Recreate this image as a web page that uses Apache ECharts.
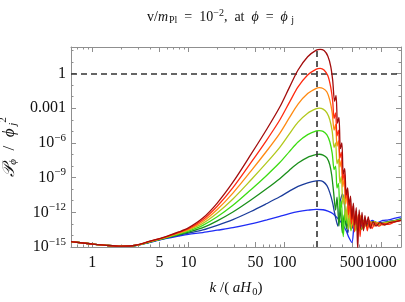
<!DOCTYPE html>
<html><head><meta charset="utf-8">
<script src="https://cdn.jsdelivr.net/npm/echarts@6/dist/echarts.min.js"></script>
<style>html,body{margin:0;padding:0;background:#fff}#c{width:405px;height:302px}</style>
</head><body><div id="c"></div>
<script>
// All values in decades: log10(k/(aH0)) and log10(P_phi/phi_j^2)
const logK_rise = [-0.22, 0, 0.15, 0.3, 0.45, 0.6, 0.75, 0.9, 1.0, 1.15, 1.3, 1.463, 1.65, 1.816, 1.95, 2.05, 2.14, 2.24, 2.33];

const rise_blue      = [-14.54,-14.74,-14.86,-14.93,-14.88,-14.6,-14.3,-14.05,-13.9,-13.75,-13.55,-13.33,-13.0,-12.65,-12.35,-12.12,-11.95,-11.82,-11.74];
const rise_darkBlue  = [-14.54,-14.74,-14.86,-14.93,-14.87,-14.58,-14.27,-13.99,-13.8,-13.53,-13.13,-12.63,-11.93,-11.24,-10.66,-10.17,-9.76,-9.45,-9.28];
const rise_darkGreen = [-14.54,-14.74,-14.86,-14.93,-14.87,-14.57,-14.25,-13.93,-13.71,-13.32,-12.74,-11.98,-10.94,-9.95,-9.1,-8.36,-7.74,-7.25,-7.01];
const rise_green     = [-14.54,-14.74,-14.86,-14.93,-14.87,-14.55,-14.23,-13.88,-13.63,-13.13,-12.39,-11.40,-10.05,-8.79,-7.7,-6.75,-5.92,-5.29,-4.97];
const rise_yellowGreen=[-14.54,-14.74,-14.86,-14.93,-14.86,-14.54,-14.21,-13.83,-13.55,-12.96,-12.06,-10.85,-9.21,-7.69,-6.38,-5.22,-4.21,-3.43,-3.04];
const rise_orange    = [-14.54,-14.74,-14.86,-14.93,-14.86,-14.52,-14.19,-13.78,-13.48,-12.8,-11.76,-10.34,-8.44,-6.68,-5.17,-3.82,-2.64,-1.73,-1.28];
const rise_red       = [-14.54,-14.74,-14.86,-14.93,-14.85,-14.51,-14.17,-13.74,-13.42,-12.65,-11.48,-9.87,-7.71,-5.73,-4.02,-2.5,-1.16,-0.13,0.38];
const rise_darkRed   = [-14.54,-14.74,-14.86,-14.93,-14.85,-14.5,-14.15,-13.7,-13.35,-12.5,-11.2,-9.4,-7.0,-4.8,-2.9,-1.2,0.3,1.45,2.02];

const tailK_blue = [2.40,2.45,2.50,2.55,2.60,2.64,2.67,2.70,2.72,2.74,2.76,2.78,2.81,2.84,2.87,2.91,2.96,3.02,3.08,3.15,3.21];
const tailP_blue = [-11.78,-11.9,-12.1,-12.5,-13.0,-13.6,-14.2,-14.6,-13.3,-12.6,-13.2,-12.8,-13.3,-12.7,-13.0,-12.7,-12.9,-12.7,-12.65,-12.5,-12.4];
const tailK_darkBlue = [2.36,2.40,2.44,2.47,2.50,2.52,2.554,2.575,2.603,2.625,2.657,2.68,2.70,2.73,2.76,2.79,2.83,2.88,2.94,3.0,3.08,3.15,3.21];
const tailP_darkBlue = [-9.27,-9.35,-9.7,-10.3,-11.2,-12.06,-13.2,-11.2,-10.4,-11.5,-13.8,-12.4,-13.4,-12.6,-13.5,-12.7,-13.2,-12.8,-13.1,-12.9,-12.8,-12.7,-12.55];
const tailK_darkGreen = [2.36,2.40,2.44,2.47,2.49,2.51,2.53,2.545,2.565,2.58,2.60,2.62,2.645,2.67,2.70,2.73,2.77,2.81,2.86,2.92,3.0,3.08,3.15,3.21];
const tailP_darkGreen = [-6.98,-7.05,-7.3,-7.9,-8.8,-10.3,-11.8,-10.7,-13.2,-11.6,-13.8,-12.2,-13.4,-12.5,-13.2,-12.6,-13.3,-12.7,-13.1,-12.8,-13.0,-12.8,-12.75,-12.6];
const tailK_green = [2.36,2.40,2.44,2.47,2.495,2.515,2.53,2.545,2.56,2.575,2.59,2.61,2.63,2.65,2.67,2.69,2.71,2.74,2.77,2.80,2.83,2.87,2.92,2.98,3.05,3.12,3.21];
const tailP_green = [-4.94,-5.0,-5.3,-5.9,-6.9,-8.3,-8.0,-9.9,-9.5,-12.0,-11.0,-14.1,-11.8,-13.0,-12.3,-13.6,-12.5,-13.3,-12.6,-13.5,-12.7,-13.2,-12.8,-13.1,-12.9,-12.8,-12.6];
const tailK_yellowGreen = [2.36,2.40,2.44,2.47,2.495,2.515,2.53,2.545,2.56,2.575,2.59,2.605,2.62,2.635,2.65,2.665,2.68,2.70,2.72,2.74,2.76,2.78,2.80,2.83,2.86,2.89,2.93,2.98,3.04,3.11,3.21];
const tailP_yellowGreen = [-3.0,-3.08,-3.4,-4.0,-5.0,-6.4,-6.0,-7.8,-7.4,-9.5,-8.9,-11.3,-10.5,-12.7,-11.5,-13.5,-12.0,-13.1,-12.3,-13.6,-12.5,-13.2,-12.6,-13.3,-12.8,-13.1,-12.8,-13.0,-12.9,-12.8,-12.65];
const tailK_orange = [2.36,2.40,2.44,2.47,2.495,2.515,2.53,2.545,2.56,2.575,2.59,2.605,2.62,2.635,2.65,2.665,2.68,2.695,2.71,2.73,2.75,2.77,2.79,2.81,2.83,2.86,2.89,2.93,2.97,3.02,3.08,3.14,3.21];
const tailP_orange = [-1.23,-1.3,-1.6,-2.3,-3.4,-4.9,-4.4,-6.3,-5.8,-8.1,-7.5,-9.8,-9.1,-11.3,-10.4,-12.5,-11.2,-13.4,-11.7,-12.9,-12.2,-13.6,-12.3,-13.1,-12.6,-13.4,-12.8,-13.2,-12.9,-13.1,-12.9,-12.8,-12.7];
const tailK_red = [2.37,2.41,2.45,2.48,2.50,2.515,2.53,2.545,2.56,2.575,2.59,2.605,2.62,2.635,2.65,2.665,2.68,2.695,2.71,2.725,2.74,2.755,2.77,2.785,2.80,2.82,2.84,2.86,2.88,2.91,2.94,2.98,3.03,3.08,3.14,3.21];
const tailP_red = [0.45,0.3,-0.2,-1.2,-2.4,-3.9,-3.4,-5.4,-4.9,-7.3,-6.8,-9.2,-8.6,-10.8,-10.0,-12.2,-10.9,-13.0,-11.5,-13.7,-11.9,-13.1,-12.2,-14.1,-12.4,-13.5,-12.5,-13.6,-12.7,-13.4,-12.9,-13.2,-12.95,-13.05,-12.85,-12.7];
const tailK_darkRed = [2.37,2.41,2.45,2.48,2.50,2.52,2.535,2.55,2.565,2.58,2.595,2.61,2.625,2.64,2.655,2.67,2.685,2.70,2.715,2.73,2.745,2.76,2.775,2.79,2.805,2.82,2.835,2.85,2.87,2.89,2.92,2.95,2.99,3.04,3.09,3.15,3.21];
const tailP_darkRed = [2.09,1.98,1.5,0.6,-0.6,-2.4,-1.9,-4.3,-3.8,-6.5,-6.0,-8.7,-8.2,-10.5,-9.9,-11.4,-10.6,-12.6,-11.2,-13.1,-11.6,-15.2,-11.8,-13.4,-12.0,-13.6,-12.3,-13.2,-12.4,-13.4,-12.8,-13.2,-12.9,-13.1,-12.9,-12.8,-12.7];

const k_j = 214;          // vertical dashed line, k at phi = phi_j
const refLevel = 1;       // horizontal dashed line

const xTickValues = [1, 5, 10, 50, 100, 500, 1000];
const xTickLabels = ['1', '5', '10', '50', '100', '500', '1000'];
const xMinorValues = [0.7,0.8,0.9,2,3,4,6,7,8,9,20,30,40,60,70,80,90,200,300,400,600,700,800,900,1500];
const yTickExps = [0, -3, -6, -9, -12, -15];
const yTickLabels = ['1', '0.001', '10^-6', '10^-9', '10^-12', '10^-15'];
const yMinorExps = [2, 1, -1, -2, -4, -5, -7, -8, -10, -11, -13, -14];

const curveNames = ['blue','darkBlue','darkGreen','green','yellowGreen','orange','red','darkRed'];
const curveColors = ['#1f2cf5','#1c3d9c','#1a8f1a','#3ddc12','#b2c81c','#ff8a12','#ff2a10','#a30c0c'];
const rises = [rise_blue, rise_darkBlue, rise_darkGreen, rise_green, rise_yellowGreen, rise_orange, rise_red, rise_darkRed];
const tailsK = [tailK_blue, tailK_darkBlue, tailK_darkGreen, tailK_green, tailK_yellowGreen, tailK_orange, tailK_red, tailK_darkRed];
const tailsP = [tailP_blue, tailP_darkBlue, tailP_darkGreen, tailP_green, tailP_yellowGreen, tailP_orange, tailP_red, tailP_darkRed];

const FONT = "'Liberation Serif','DejaVu Serif',serif";
const XMIN = -0.22, XMAX = 3.21, YMIN = -15, YMAX = 2.29;
const frameColor = '#8f8f8f';

const series = curveNames.map((name, c) => {
  const data = logK_rise.map((u, i) => [u, rises[c][i]]);
  tailsK[c].forEach((u, i) => data.push([u, tailsP[c][i]]));
  const s = {
    name, type: 'line', data, showSymbol: false, smooth: 0.3,
    lineStyle: { color: curveColors[c], width: 1.3 }, z: 2 + c, animation: false
  };
  if (c === curveNames.length - 1) {
    s.markLine = {
      silent: true, symbol: 'none', animation: false,
      label: { show: false },
      lineStyle: { type: [6, 4], color: '#333', width: 1.6 },
      data: [{ yAxis: Math.log10(refLevel) }, { xAxis: Math.log10(k_j) }]
    };
  }
  return s;
});

function xAxisDef(pos, major, withLabel) {
  const vals = (major ? xTickValues : xMinorValues).map(v => Math.log10(v));
  return {
    type: 'value', min: XMIN, max: XMAX, position: pos,
    axisLine: { show: major, onZero: false, lineStyle: { color: frameColor, width: 1 } },
    axisTick: { show: true, inside: true, length: major ? 5 : 2.5, customValues: vals, lineStyle: { color: frameColor } },
    axisLabel: withLabel ? {
      show: true, customValues: vals, margin: 8, color: '#111', fontSize: 16, fontFamily: FONT,
      formatter: v => { const i = vals.findIndex(t => Math.abs(t - v) < 1e-6); return i >= 0 ? xTickLabels[i] : ''; }
    } : { show: false },
    splitLine: { show: false },
    name: withLabel ? '{i|k}{n| /( }{i|aH}{sub|0}{n|)}' : '',
    nameLocation: 'middle', nameGap: 32,
    nameTextStyle: {
      rich: {
        i: { fontFamily: FONT, fontStyle: 'italic', fontSize: 15, color: '#111' },
        n: { fontFamily: FONT, fontSize: 15, color: '#111' },
        sub: { fontFamily: FONT, fontSize: 10.5, color: '#111', padding: [8, 0, 0, 1] }
      }
    }
  };
}
function yAxisDef(pos, major, withLabel) {
  const vals = major ? yTickExps : yMinorExps;
  return {
    type: 'value', min: YMIN, max: YMAX, position: pos,
    axisLine: { show: major, onZero: false, lineStyle: { color: frameColor, width: 1 } },
    axisTick: { show: true, inside: true, length: major ? 5 : 2.5, customValues: vals, lineStyle: { color: frameColor } },
    axisLabel: withLabel ? {
      show: true, customValues: vals, margin: 5, color: '#111', fontSize: 16, fontFamily: FONT,
      formatter: v => {
        const i = vals.findIndex(t => Math.abs(t - v) < 1e-6);
        if (i < 0) return '';
        const s = yTickLabels[i];
        if (s.indexOf('^') >= 0) { const p = s.split('^'); return p[0] + '{sup|' + p[1].replace('-', '\u2212') + '}'; }
        return s;
      },
      rich: { sup: { fontFamily: FONT, fontSize: 11, color: '#111', padding: [0, 0, 10, 0] } }
    } : { show: false },
    splitLine: { show: false },
    name: withLabel ? '{i|\uD835\uDCAB}{sub|\u03D5}{n|  /  }{i|\u03D5}{sub| j}{sup|2}' : '',
    nameLocation: 'middle', nameGap: 44, nameRotate: 90,
    nameTextStyle: {
      rich: {
        i: { fontFamily: FONT, fontStyle: 'italic', fontSize: 17, color: '#111' },
        n: { fontFamily: FONT, fontSize: 17, color: '#111' },
        sub: { fontFamily: FONT, fontStyle: 'italic', fontSize: 11, color: '#111', padding: [9, 0, 0, 0] },
        sup: { fontFamily: FONT, fontSize: 11, color: '#111', padding: [0, 0, 12, 0] }
      }
    }
  };
}

const chart = echarts.init(document.getElementById('c'), null, { renderer: 'canvas' });
chart.setOption({
  animation: false,
  backgroundColor: '#fff',
  title: {
    text: '{n|v/}{i|m}{sub|Pl}{n|  =  10}{sup|\u22122}{n|,  at  }{i|\u03D5}{n|  =  }{i|\u03D5}{sub| j}',
    left: 142, top: 3,
    textStyle: {
      fontWeight: 'normal',
      rich: {
        n: { fontFamily: FONT, fontSize: 14, fontWeight: 'normal', color: '#111' },
        i: { fontFamily: FONT, fontStyle: 'italic', fontWeight: 'normal', fontSize: 14, color: '#111' },
        sub: { fontFamily: FONT, fontSize: 10, fontWeight: 'normal', color: '#111', padding: [7, 0, 0, 1] },
        sup: { fontFamily: FONT, fontSize: 10, fontWeight: 'normal', color: '#111', padding: [0, 0, 8, 0] }
      }
    }
  },
  grid: { left: 71, right: 4, top: 47, bottom: 55, containLabel: false, outerBoundsMode: 'none' },
  xAxis: [xAxisDef('bottom', true, true), xAxisDef('bottom', false, false), xAxisDef('top', true, false), xAxisDef('top', false, false)],
  yAxis: [yAxisDef('left', true, true), yAxisDef('left', false, false), yAxisDef('right', true, false), yAxisDef('right', false, false)],
  series
});
</script>
</body></html>
